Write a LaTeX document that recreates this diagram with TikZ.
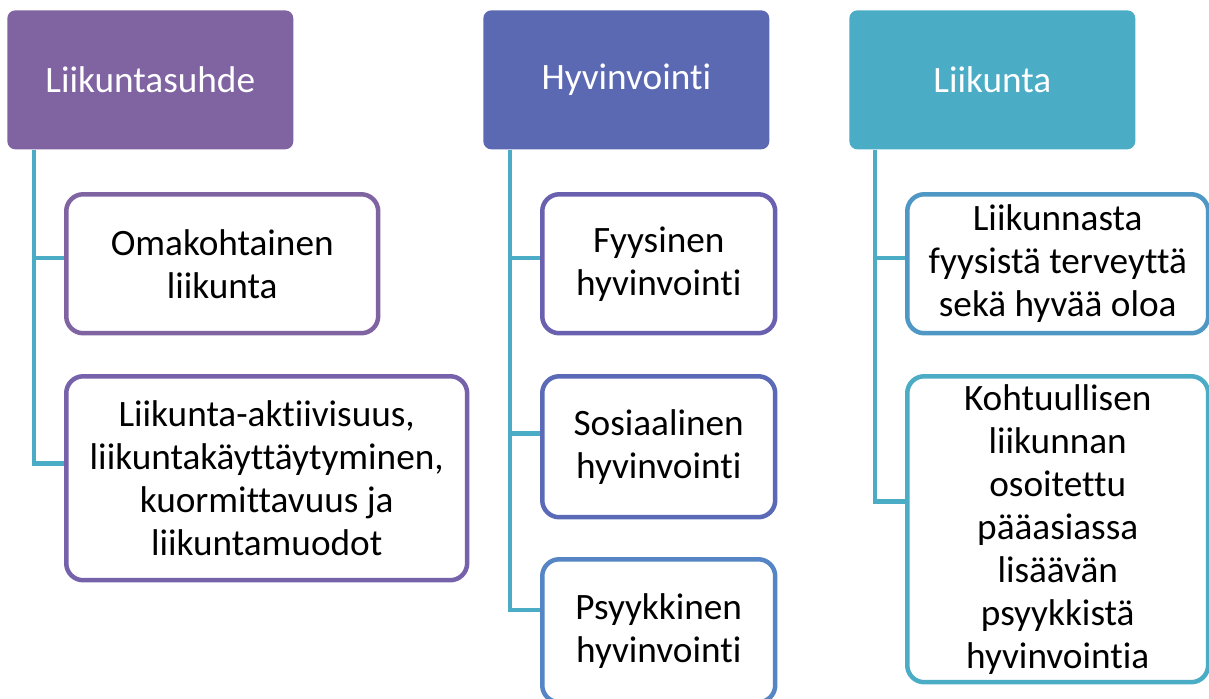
\documentclass[tikz,border=0pt]{standalone}
\usepackage{fontspec}
\setmainfont{Carlito}[Ligatures={NoCommon}]
\usepackage{tikz}
\usetikzlibrary{positioning,calc}

\definecolor{headA}{HTML}{8064A2}
\definecolor{headB}{HTML}{5B69B3}
\definecolor{headC}{HTML}{4BACC6}
\definecolor{rimA}{HTML}{8064A2}
\definecolor{rimB}{HTML}{7562AB}
\definecolor{rimC}{HTML}{6A60B0}
\definecolor{rimD}{HTML}{5B6AB6}
\definecolor{rimE}{HTML}{5585C4}
\definecolor{rimF}{HTML}{4F97C4}
\definecolor{rimG}{HTML}{4BACC6}

\tikzset{
    head/.style={
        fill=#1, text=white, anchor=north west,
        minimum width=5.72cm, minimum height=2.78cm,
        rounded corners=0.16cm
        },
    item/.style={
        draw=#1, fill=white, anchor=north west, align=center,
        line width=0.09cm, rounded corners=0.34cm, inner sep=2pt
        },
    link/.style={draw=headC, line width=0.09cm}
}

\begin{document}
\begin{tikzpicture}[x=0.02cm, y=-0.02cm,
    font=\fontsize{21.2}{24.5}\selectfont]
    \useasboundingbox (0,0) rectangle (1209,698);

    % headers
    \node[head=headA] (suhde) at (7,10)   {Liikuntasuhde};
    \node[head=headB] (hyvin) at (483,10) {Hyvinvointi};
    \node[head=headC] (liik)  at (849,10) {Liikunta};

    % first column
    \node[item=rimA, minimum width=6.24cm, minimum height=2.78cm] (oma) at (64,192)
        {Omakohtainen\\liikunta};
    \node[item=rimB, minimum width=8.02cm, minimum height=4.08cm] (akt) at (64,374)
        {Liikunta-aktiivisuus,\\liikuntakäyttäytyminen,\\kuormittavuus ja\\liikuntamuodot};

    % second column
    \node[item=rimC, minimum width=4.66cm, minimum height=2.78cm] (fyys) at (540,192)
        {Fyysinen\\hyvinvointi};
    \node[item=rimD, minimum width=4.66cm, minimum height=2.82cm] (sos) at (540,374)
        {Sosiaalinen\\hyvinvointi};
    \node[item=rimE, minimum width=4.66cm, minimum height=2.86cm] (psyk) at (540,557)
        {Psyykkinen\\hyvinvointi};

    % third column
    \node[item=rimF, minimum width=6.02cm, minimum height=2.78cm] (terv) at (905,192)
        {Liikunnasta\\fyysistä terveyttä\\sekä hyvää oloa};
    \node[item=rimG, minimum width=6.02cm, minimum height=6.12cm] (kohtu) at (905,374)
        {Kohtuullisen\\liikunnan\\osoitettu\\pääasiassa\\lisäävän\\psyykkistä\\hyvinvointia};

    % connectors
    \draw[link] ([xshift=0.54cm]suhde.south west) |- ($(oma.north west)!0.46!(oma.south west)$);
    \draw[link] ([xshift=0.54cm]suhde.south west) |- ($(akt.north west)!0.43!(akt.south west)$);
    \draw[link] ([xshift=0.54cm]hyvin.south west) |- ($(fyys.north west)!0.46!(fyys.south west)$);
    \draw[link] ([xshift=0.54cm]hyvin.south west) |- ($(sos.north west)!0.41!(sos.south west)$);
    \draw[link] ([xshift=0.54cm]hyvin.south west) |- ($(psyk.north west)!0.36!(psyk.south west)$);
    \draw[link] ([xshift=0.52cm]liik.south west) |- ($(terv.north west)!0.46!(terv.south west)$);
    \draw[link] ([xshift=0.52cm]liik.south west) |- ($(kohtu.north west)!0.41!(kohtu.south west)$);
\end{tikzpicture}
\end{document}
